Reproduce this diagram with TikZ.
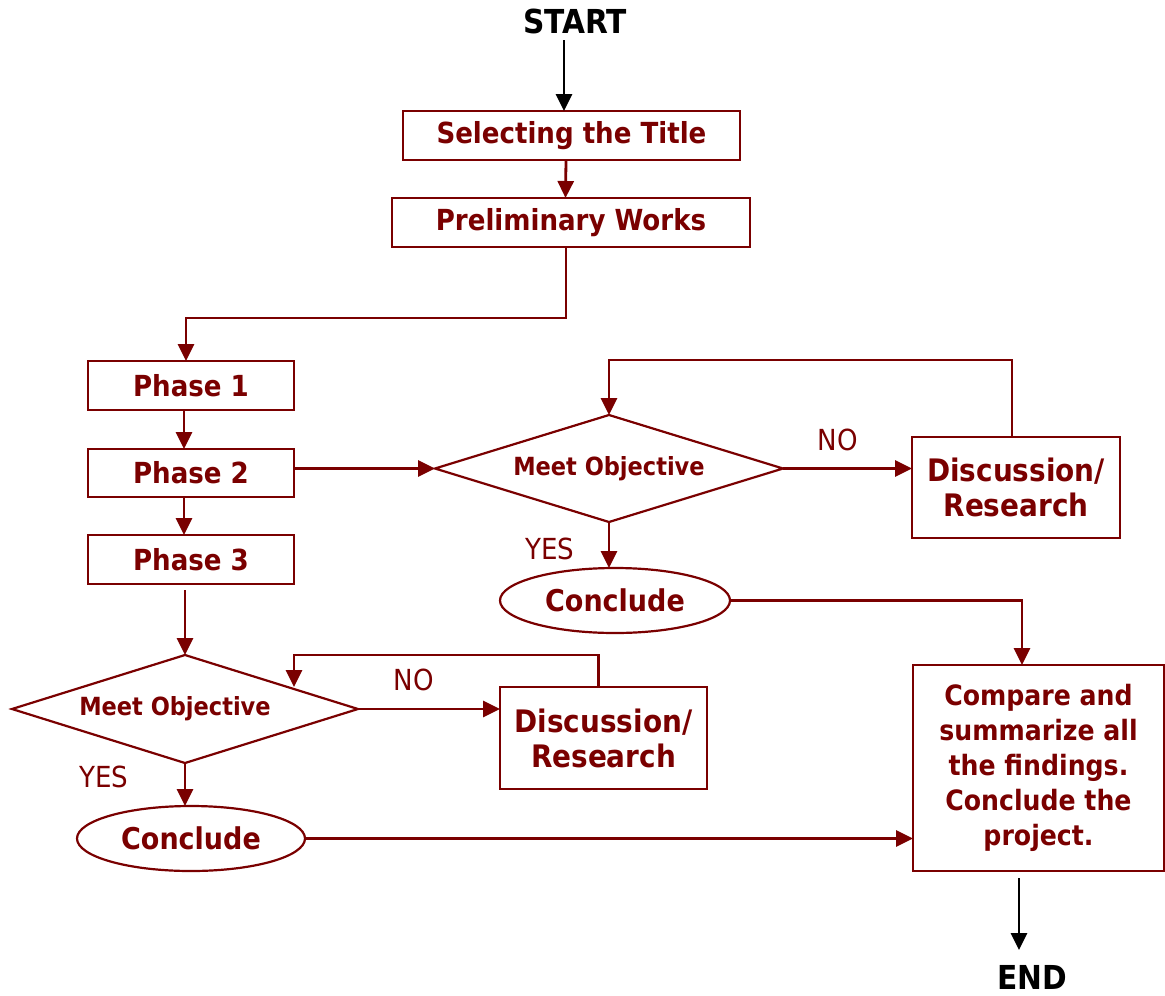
\documentclass[tikz,border=0pt]{standalone}
\usepackage{fontspec}
\setmainfont{DejaVu Sans Condensed}
\usetikzlibrary{arrows.meta,shapes.geometric}
\definecolor{dred}{RGB}{122,0,0}
\begin{document}
\begin{tikzpicture}[x=1pt,y=-1pt,
  box/.style={draw=dred, text=dred, line width=2.2pt, inner sep=0pt, outer sep=0pt, align=center,
              font=\bfseries\fontsize{29}{35}\selectfont},
  disc/.style={box, font=\bfseries\fontsize{31}{35}\selectfont},
  dia/.style={diamond, aspect=3.2, draw=dred, text=dred, line width=2.2pt, inner sep=0pt, outer sep=0pt,
              font=\bfseries\fontsize{25}{28}\selectfont},
  ell/.style={ellipse, draw=dred, text=dred, line width=2.2pt, inner sep=0pt, outer sep=0pt,
              font=\bfseries\fontsize{30}{34}\selectfont},
  term/.style={text=black, inner sep=0pt, font=\bfseries\fontsize{33}{36}\selectfont},
  lbl/.style={text=dred, inner sep=0pt, font=\fontsize{29}{32}\selectfont},
  arr/.style={draw=dred, line width=2.8pt, -{Triangle[length=17pt,width=16pt]}},
  blk/.style={draw=black, line width=2.8pt, -{Triangle[length=17pt,width=16pt]}}]
\useasboundingbox (0,0) rectangle (1165,996);

\node[term] (start) at (575,21) {START};
\node[term] (end) at (1032,977) {END};

\node[box, minimum width=337, minimum height=49] (sel) at (571.5,135.5) {Selecting the Title};
\node[box, minimum width=358, minimum height=49] (pre) at (571,222.5) {Preliminary Works};
\node[box, minimum width=206, minimum height=49] (p1) at (191,385.5) {Phase 1};
\node[box, minimum width=206, minimum height=48] (p2) at (191,473) {Phase 2};
\node[box, minimum width=206, minimum height=49] (p3) at (191,559.5) {Phase 3};

\node[dia, minimum width=346, minimum height=108] (d1) at (185,709) {\hspace*{-20pt}Meet Objective};
\node[dia, minimum width=348, minimum height=107] (d2) at (609,468.5) {Meet Objective};

\node[disc, minimum width=207, minimum height=102] (r1) at (603.5,738) {Discussion/\\Research};
\node[disc, minimum width=208, minimum height=101] (r2) at (1016,487.5) {Discussion/\\Research};

\node[ell, minimum width=228, minimum height=65] (c1) at (191,838.5) {Conclude};
\node[ell, minimum width=230, minimum height=65] (c2) at (615,600.5) {Conclude};

\node[box, minimum width=251, minimum height=206, font=\bfseries\fontsize{28}{35}\selectfont] (cmp) at (1038.5,768) {Compare and\\summarize all\\the findings.\\Conclude the\\project.};

\node[lbl] (no1) at (414,680) {NO};
\node[lbl] (no2) at (838,440) {NO};
\node[lbl] (yes1) at (104,777) {YES};
\node[lbl] (yes2) at (550,549) {YES};

\coordinate (d1in) at (294,687);
\coordinate (endin) at (1019,950);
\coordinate (startout) at (564,40);

% connectors
\draw[blk] (startout) -- (startout |- sel.north);
\draw[arr] ([xshift=-5.5pt]sel.south) -- ([xshift=-5.5pt]pre.north);
\draw[arr] ([xshift=-5pt]pre.south) -- ++(0,71) -| ([xshift=-5pt]p1.north);
\draw[arr] ([xshift=-7pt]p1.south) -- ([xshift=-7pt]p2.north);
\draw[arr] ([xshift=-7pt]p2.south) -- ([xshift=-7pt]p3.north);
\draw[arr] ([yshift=-6pt]p3.south -| d1.north) -- (d1.north);
\draw[arr] (d1.east) -- (d1.east -| r1.west);
\draw[arr] ([xshift=-5pt]r1.north) -- ++(0,-32) -| (d1in);
\draw[arr] (d1.south) -- (d1.south |- c1.north);
\draw[arr] (c1.east) -- (c1.east -| cmp.west);
\draw[arr] (d2.west -| p2.east) -- (d2.west);
\draw[arr] (d2.east) -- (d2.east -| r2.west);
\draw[arr] ([xshift=-4pt]r2.north) -- ++(0,-77) -| (d2.north);
\draw[arr] (d2.south) -- (d2.south |- c2.north);
\draw[arr] (c2.east) -| ([xshift=-16.5pt]cmp.north);
\draw[blk] ([xshift=-19.5pt,yshift=-7pt]cmp.south) -- (endin);
\end{tikzpicture}
\end{document}
